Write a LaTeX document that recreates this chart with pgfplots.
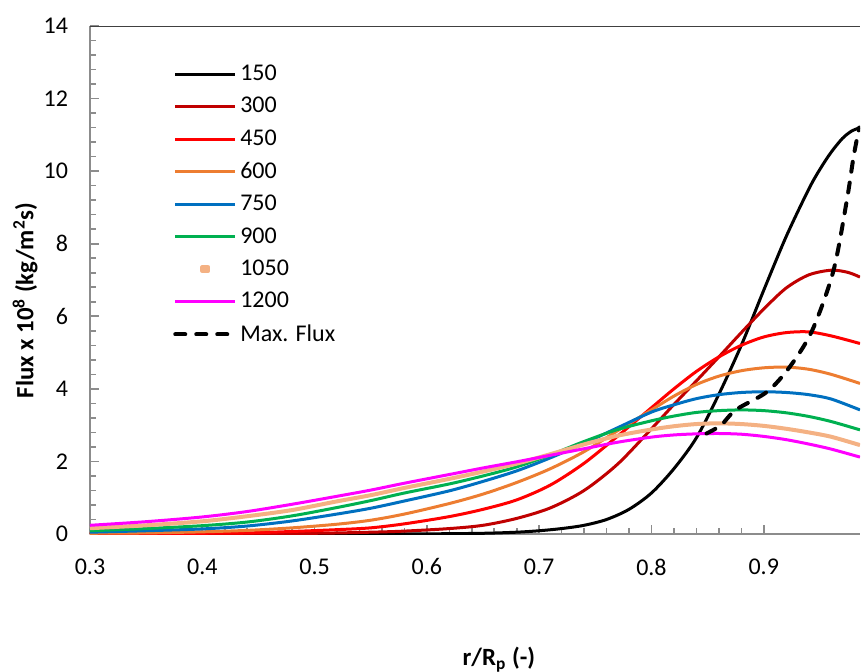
\documentclass[border=0pt]{standalone}
\usepackage{fontspec}
\setmainfont{Carlito}
\usepackage{pgfplots}
\pgfplotsset{compat=1.18}
\definecolor{cDarkRed}{HTML}{C00000}
\definecolor{cRed}{HTML}{FF0000}
\definecolor{cOrange}{HTML}{ED7D31}
\definecolor{cBlue}{HTML}{0070C0}
\definecolor{cGreen}{HTML}{00B050}
\definecolor{cSalmon}{HTML}{F4B183}
\definecolor{cMagenta}{HTML}{FF00FF}
\definecolor{cAxis}{HTML}{8C8C8C}
\begin{document}
\begin{tikzpicture}
\path[use as bounding box] (-45pt,-68.5pt) rectangle (385.5pt,267pt);
\begin{axis}[
  at={(0,0)}, anchor=south west,
  scale only axis, width=385pt, height=254pt,
  xmin=0.3, xmax=0.9857, ymin=0, ymax=14,
  xtick={0.3,0.4,0.5,0.6,0.7,0.8,0.9},
  ytick={0,2,4,6,8,10,12,14},
  minor x tick num=4, minor y tick num=4,
  axis x line*=bottom, axis y line*=left,
  axis line style={cAxis, line width=1pt, -},
  tick style={cAxis, line width=0.8pt},
  major tick length=4.3pt, minor tick length=3pt,
  tick align=inside,
  /pgf/number format/assume math mode=true,
  tick label style={font=\fontsize{12}{14}\selectfont, black},
  xticklabel style={yshift=-8.8pt, /pgf/number format/fixed, /pgf/number format/fixed zerofill, /pgf/number format/precision=1},
  yticklabel style={xshift=-7.5pt},
  xlabel={r/R\textsubscript{p} (-)},
  ylabel={Flux x 10\textsuperscript{8} (kg/m\textsuperscript{2}s)},
  label style={font=\bfseries\fontsize{12.4}{14}\selectfont},
  xlabel style={at={(axis description cs:0.531,-0.247)}, anchor=center},
  ylabel style={at={(axis description cs:-0.0844,0.46)}, anchor=center},
  legend image code/.code={\draw[#1] (0pt,0pt) -- (30pt,0pt);},
  legend style={at={(rel axis cs:0.1076,0.93)}, anchor=north west, draw=none, fill=none,
    font=\fontsize{12}{14}\selectfont, row sep=3.9pt, inner sep=0pt,
    nodes={inner sep=1.5pt}},
  legend cell align=left,
  every axis plot/.append style={line join=round},
]
\addplot[black, line width=1.5pt, smooth] coordinates {
(0.3,0) (0.4,0) (0.5,0.001) (0.6,0.005) (0.65,0.02) (0.68,0.05) (0.70,0.09) (0.72,0.15)
(0.74,0.24) (0.76,0.4) (0.78,0.68) (0.80,1.13) (0.82,1.8) (0.84,2.65) (0.86,3.85)
(0.88,5.2) (0.90,6.72) (0.92,8.2) (0.94,9.5) (0.95,10.05) (0.96,10.52) (0.97,10.9) (0.978,11.1) (0.9857,11.2)};
\addlegendentry{150}
\addplot[cDarkRed, line width=1.5pt, smooth] coordinates {
(0.3,0) (0.4,0.003) (0.5,0.02) (0.55,0.05) (0.58,0.08) (0.62,0.15) (0.65,0.24) (0.68,0.43)
(0.71,0.72) (0.74,1.2) (0.77,1.93) (0.80,2.9) (0.82,3.57) (0.84,4.22) (0.86,4.88)
(0.88,5.55) (0.90,6.2) (0.92,6.78) (0.94,7.14) (0.96,7.27) (0.975,7.21) (0.9857,7.08)};
\addlegendentry{300}
\addplot[cRed, line width=1.5pt, smooth] coordinates {
(0.3,0.003) (0.4,0.02) (0.44,0.03) (0.48,0.07) (0.52,0.12) (0.55,0.17) (0.58,0.28) (0.62,0.48)
(0.65,0.68) (0.68,0.94) (0.71,1.35) (0.74,1.95) (0.77,2.7) (0.80,3.48) (0.82,4.0) (0.84,4.48)
(0.86,4.88) (0.88,5.2) (0.90,5.43) (0.92,5.55) (0.94,5.57) (0.96,5.46) (0.9857,5.25)};
\addlegendentry{450}
\addplot[cOrange, line width=1.5pt, smooth] coordinates {
(0.3,0.02) (0.35,0.03) (0.40,0.06) (0.44,0.1) (0.48,0.17) (0.52,0.27) (0.55,0.38) (0.58,0.55)
(0.62,0.84) (0.65,1.1) (0.68,1.42) (0.71,1.8) (0.74,2.27) (0.77,2.85) (0.80,3.42) (0.82,3.8)
(0.84,4.12) (0.86,4.35) (0.88,4.5) (0.90,4.58) (0.92,4.6) (0.94,4.54) (0.96,4.4) (0.9857,4.15)};
\addlegendentry{600}
\addplot[cBlue, line width=1.5pt, smooth] coordinates {
(0.3,0.05) (0.35,0.09) (0.40,0.14) (0.44,0.22) (0.48,0.36) (0.52,0.55) (0.55,0.71) (0.58,0.91)
(0.62,1.19) (0.65,1.45) (0.68,1.74) (0.71,2.1) (0.74,2.5) (0.77,2.93) (0.80,3.36) (0.82,3.56)
(0.84,3.73) (0.86,3.84) (0.88,3.9) (0.90,3.92) (0.92,3.9) (0.94,3.84) (0.96,3.72) (0.9857,3.42)};
\addlegendentry{750}
\addplot[cGreen, line width=1.5pt, smooth] coordinates {
(0.3,0.09) (0.35,0.15) (0.40,0.23) (0.44,0.33) (0.48,0.5) (0.52,0.73) (0.55,0.92) (0.58,1.13)
(0.62,1.38) (0.65,1.6) (0.68,1.85) (0.71,2.18) (0.74,2.55) (0.77,2.88) (0.80,3.12) (0.82,3.25)
(0.84,3.35) (0.86,3.4) (0.88,3.42) (0.90,3.4) (0.92,3.34) (0.94,3.24) (0.96,3.1) (0.9857,2.87)};
\addlegendentry{900}
\addplot[cSalmon, line width=2pt, smooth,
  legend image code/.code={\fill[cSalmon] (13.5pt,-0.85pt) rectangle (16.5pt,0.85pt);}] coordinates {
(0.3,0.16) (0.35,0.24) (0.40,0.35) (0.44,0.49) (0.48,0.66) (0.52,0.9) (0.55,1.07) (0.58,1.27)
(0.62,1.52) (0.65,1.72) (0.68,1.94) (0.71,2.2) (0.74,2.47) (0.77,2.71) (0.80,2.88) (0.82,2.97)
(0.84,3.03) (0.86,3.05) (0.88,3.03) (0.90,2.98) (0.92,2.9) (0.94,2.8) (0.96,2.68) (0.9857,2.45)};
\addlegendentry{1050}
\addplot[cMagenta, line width=1.5pt, smooth] coordinates {
(0.3,0.24) (0.35,0.34) (0.40,0.47) (0.44,0.62) (0.48,0.82) (0.52,1.04) (0.55,1.21) (0.58,1.40)
(0.62,1.64) (0.65,1.82) (0.68,1.99) (0.71,2.17) (0.74,2.35) (0.77,2.53) (0.80,2.67) (0.82,2.73)
(0.84,2.76) (0.86,2.77) (0.88,2.75) (0.90,2.69) (0.92,2.6) (0.94,2.48) (0.96,2.34) (0.9857,2.12)};
\addlegendentry{1200}
\addplot[black, line width=2pt, dash pattern=on 5pt off 5.5pt, line cap=round, smooth] coordinates {
(0.849,2.77) (0.862,3.0) (0.875,3.42) (0.903,3.92) (0.923,4.6) (0.943,5.6) (0.962,7.25)
(0.974,9.2) (0.980,10.4) (0.985,11.2)};
\addlegendentry{Max. Flux}
\draw[black!75, line width=1pt] (rel axis cs:0,1) -- (rel axis cs:1,1);
\end{axis}
\end{tikzpicture}
\end{document}
